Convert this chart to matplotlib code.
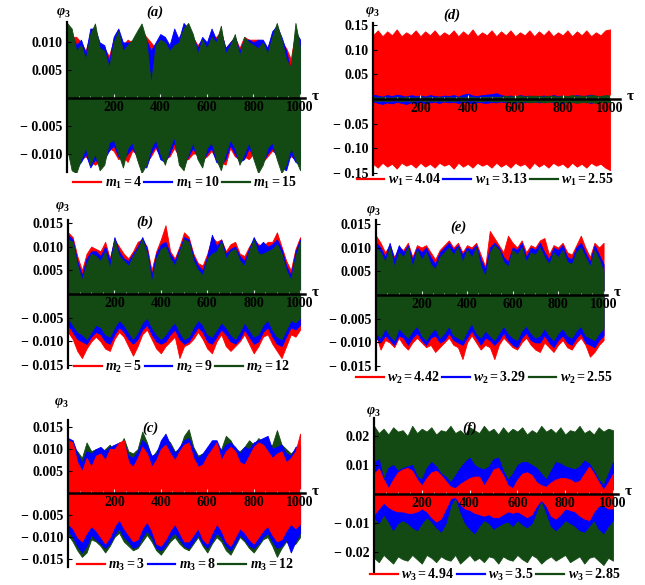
import numpy as np
import matplotlib
matplotlib.use('Agg')
import matplotlib.pyplot as plt
from matplotlib.lines import Line2D

plt.rcParams['font.family'] = ['Liberation Serif', 'DejaVu Serif']
plt.rcParams['font.weight'] = 'bold'
plt.rcParams['mathtext.fontset'] = 'custom'
plt.rcParams['mathtext.rm'] = 'Liberation Serif:bold'
plt.rcParams['mathtext.it'] = 'Liberation Serif:italic:bold'
plt.rcParams['mathtext.bf'] = 'Liberation Serif:bold'

RED, BLUE, GREEN = '#ff0000', '#0000ff', '#134a13'

############ data: envelope of phi_3, tau = 0,20,...,1000 ############
tau = list(range(0, 1001, 20))

# (a) units 1e-3
a_red_up = [12.5, 11.0, 11.0, 10.0, 8.5, 11.5, 12.0, 9.5, 9.0, 7.5, 10.5, 11.5, 9.5, 10.5, 10.0, 11.0, 12.0, 11.0, 10.0, 9.0, 10.5, 10.5, 9.0, 10.0, 11.0, 12.0, 12.0, 11.0, 9.5, 10.5, 9.5, 11.0, 11.0, 12.0, 9.0, 10.0, 11.0, 9.0, 11.0, 10.5, 10.5, 10.5, 10.0, 9.0, 11.5, 12.0, 10.0, 9.0, 7.0, 12.0, 10.0]
a_blue_up = [12.0, 11.5, 9.5, 10.5, 8.0, 12.5, 12.5, 10.0, 9.5, 6.5, 11.0, 12.5, 10.0, 10.0, 10.0, 11.0, 12.5, 10.5, 8.5, 10.0, 11.5, 11.0, 9.5, 12.5, 10.5, 13.5, 12.5, 11.0, 9.0, 11.0, 10.0, 12.5, 10.5, 12.0, 9.0, 10.0, 11.0, 8.5, 10.5, 10.5, 10.0, 10.5, 10.5, 9.0, 12.0, 13.0, 11.0, 8.5, 5.0, 12.0, 10.5]
a_green_up = [13.5, 12.5, 8.5, 9.5, 7.0, 11.5, 13.4, 9.0, 8.5, 5.5, 10.0, 12.0, 8.5, 9.5, 10.5, 12.0, 13.4, 10.5, 2.5, 9.5, 10.5, 10.0, 8.5, 9.5, 10.0, 12.5, 13.5, 11.5, 8.0, 10.5, 9.0, 11.0, 10.0, 13.0, 8.0, 9.5, 11.5, 7.5, 11.0, 10.0, 9.5, 9.0, 10.0, 8.0, 11.0, 13.5, 10.5, 7.0, 5.5, 13.5, 9.0]
a_red_lo = [9.5, 10.5, 12.0, 11.0, 10.5, 11.5, 12.0, 11.5, 10.5, 9.0, 9.5, 11.0, 10.5, 11.5, 9.5, 10.0, 11.0, 11.5, 10.5, 9.0, 10.5, 11.0, 10.5, 9.0, 10.5, 11.0, 11.0, 10.0, 10.0, 11.0, 10.5, 9.5, 11.0, 11.5, 12.0, 9.0, 10.5, 11.0, 10.5, 11.0, 10.0, 11.0, 11.5, 10.5, 9.5, 10.0, 12.0, 11.0, 10.5, 11.0, 11.0]
a_blue_lo = [8.0, 11.5, 12.5, 11.5, 10.0, 12.5, 11.0, 12.0, 11.0, 9.5, 8.5, 10.5, 11.0, 10.0, 9.0, 10.5, 12.0, 12.5, 10.0, 8.5, 11.0, 11.5, 10.0, 8.0, 11.0, 12.0, 10.5, 9.0, 10.5, 11.5, 10.0, 9.0, 11.5, 12.0, 11.0, 8.5, 10.0, 11.5, 11.0, 9.0, 10.5, 12.5, 11.5, 10.0, 9.0, 10.5, 12.5, 13.0, 10.0, 11.5, 12.0]
a_green_lo = [9.0, 13.0, 13.5, 11.0, 9.0, 12.0, 10.0, 13.0, 12.0, 8.0, 7.5, 10.0, 12.5, 9.0, 8.0, 11.0, 13.5, 12.0, 9.0, 7.5, 10.0, 12.0, 9.0, 7.0, 12.0, 13.0, 10.0, 8.0, 11.0, 12.5, 9.0, 8.0, 11.0, 13.0, 10.0, 7.5, 9.0, 12.0, 10.0, 8.0, 11.0, 13.5, 12.0, 9.0, 8.0, 11.0, 13.5, 12.0, 9.0, 11.0, 13.0]

# (b) units 1e-3
b_red_up = [13.0, 12.0, 8.0, 5.0, 8.5, 10.0, 9.5, 9.0, 11.0, 7.5, 11.5, 10.0, 8.5, 7.5, 9.0, 11.0, 11.5, 10.0, 5.0, 9.0, 11.5, 14.5, 9.0, 7.5, 10.0, 13.0, 12.0, 8.5, 6.5, 6.0, 8.5, 12.0, 11.0, 11.5, 9.0, 10.5, 11.0, 8.5, 8.0, 10.0, 11.5, 10.5, 10.0, 11.0, 11.0, 13.0, 10.0, 7.0, 5.0, 9.5, 12.0]
b_blue_up = [12.5, 11.5, 7.0, 4.0, 7.5, 9.0, 9.0, 8.0, 10.0, 7.0, 12.0, 9.0, 7.5, 7.0, 8.5, 10.0, 12.0, 9.5, 4.0, 8.5, 10.5, 11.0, 8.5, 7.0, 9.5, 12.0, 11.5, 8.0, 6.0, 5.0, 8.0, 12.5, 10.0, 11.5, 8.5, 9.5, 10.0, 8.0, 7.0, 9.5, 12.0, 10.0, 11.0, 10.0, 10.5, 11.5, 9.5, 6.0, 4.0, 9.0, 11.5]
b_green_up = [11.5, 11.0, 6.0, 3.0, 6.5, 8.5, 8.0, 7.0, 9.0, 5.5, 11.5, 8.0, 7.0, 6.0, 8.0, 9.5, 11.5, 8.5, 2.5, 7.5, 9.5, 10.0, 7.5, 6.0, 9.0, 11.5, 11.0, 7.0, 5.0, 4.0, 7.5, 8.5, 9.0, 11.0, 7.5, 9.0, 9.5, 7.0, 6.0, 9.0, 11.5, 8.5, 8.5, 9.0, 9.5, 10.5, 8.5, 5.0, 3.0, 8.0, 11.0]
b_red_lo = [8.0, 9.5, 12.0, 13.5, 11.5, 10.0, 9.0, 10.0, 11.5, 12.0, 9.5, 8.0, 9.0, 11.0, 13.0, 11.0, 8.5, 7.5, 9.5, 11.5, 12.5, 11.0, 10.0, 9.0, 13.5, 11.0, 10.5, 9.5, 8.0, 9.5, 11.5, 12.5, 10.0, 8.5, 11.0, 12.0, 11.0, 10.0, 8.5, 10.5, 12.5, 11.0, 9.0, 8.5, 10.5, 12.0, 13.5, 11.0, 8.5, 9.0, 7.5]
b_blue_lo = [6.5, 8.0, 9.5, 10.0, 10.5, 9.0, 8.0, 8.5, 10.0, 10.5, 8.5, 7.0, 8.0, 9.5, 10.5, 9.5, 7.5, 6.5, 8.5, 10.0, 10.5, 10.0, 8.5, 7.5, 9.5, 10.5, 10.0, 8.5, 7.0, 8.0, 10.0, 10.5, 9.0, 7.5, 8.5, 10.0, 10.5, 9.5, 7.5, 9.0, 10.5, 10.0, 8.0, 7.0, 9.0, 10.5, 11.0, 9.0, 7.0, 7.5, 6.5]
b_green_lo = [5.0, 6.5, 8.0, 8.5, 9.5, 8.0, 6.5, 7.0, 8.5, 9.0, 7.0, 5.5, 6.5, 8.0, 9.5, 8.0, 6.0, 5.0, 7.0, 8.5, 9.5, 8.5, 7.0, 6.0, 8.0, 9.5, 9.0, 7.0, 5.5, 6.5, 8.5, 9.0, 7.5, 6.0, 7.0, 8.5, 9.5, 8.0, 6.0, 7.5, 9.0, 8.5, 6.5, 5.5, 7.5, 9.0, 9.5, 7.5, 5.5, 6.0, 5.0]

# (c) units 1e-3
c_red_up = [12.0, 11.5, 7.0, 5.0, 8.0, 6.0, 8.5, 9.0, 7.5, 10.0, 10.0, 11.5, 12.0, 7.0, 6.0, 8.0, 10.5, 9.0, 6.0, 7.5, 10.0, 11.0, 9.0, 7.5, 9.5, 11.0, 11.5, 8.0, 6.0, 6.5, 8.5, 10.0, 11.5, 7.5, 9.5, 10.5, 9.5, 7.0, 6.5, 8.5, 10.5, 11.5, 11.0, 9.5, 8.0, 9.0, 9.5, 7.0, 8.0, 9.5, 13.5]
c_blue_up = [12.5, 12.0, 9.0, 7.0, 9.5, 9.0, 10.0, 10.5, 9.5, 10.5, 11.0, 11.5, 11.5, 8.5, 8.0, 9.5, 12.0, 11.0, 8.5, 9.0, 12.0, 13.5, 11.0, 9.0, 10.5, 12.0, 12.5, 10.0, 8.0, 9.0, 10.5, 12.0, 12.0, 9.5, 11.0, 11.5, 10.5, 9.0, 10.5, 10.0, 11.5, 12.0, 12.5, 13.0, 10.0, 10.5, 11.0, 9.0, 8.5, 10.5, 11.0]
c_green_up = [11.0, 10.5, 9.5, 8.0, 11.5, 9.5, 10.0, 9.0, 10.0, 11.0, 9.0, 10.5, 12.5, 9.5, 9.0, 10.0, 14.0, 11.5, 8.0, 9.5, 11.0, 12.5, 11.5, 9.5, 10.0, 13.0, 14.5, 10.5, 8.5, 9.0, 10.0, 11.5, 10.5, 10.0, 13.0, 12.0, 10.0, 9.5, 10.5, 12.0, 11.0, 12.5, 11.5, 10.5, 11.0, 14.3, 11.0, 10.0, 9.0, 10.0, 10.5]
c_red_lo = [7.0, 8.0, 10.0, 11.0, 9.0, 7.5, 8.5, 10.0, 11.5, 10.0, 7.5, 6.0, 8.0, 9.5, 11.0, 10.5, 8.0, 6.5, 8.5, 11.5, 12.0, 10.5, 8.5, 7.0, 9.0, 11.0, 11.0, 9.5, 8.0, 10.5, 11.5, 9.0, 7.0, 8.5, 11.0, 12.0, 10.0, 8.0, 9.0, 10.5, 11.5, 10.0, 8.5, 7.5, 9.5, 11.0, 10.5, 8.5, 7.0, 8.0, 7.0]
c_blue_lo = [8.5, 10.0, 12.0, 13.5, 12.0, 9.5, 10.5, 11.5, 12.5, 11.5, 9.5, 8.0, 10.0, 11.0, 12.5, 12.0, 10.0, 8.5, 10.0, 12.5, 13.0, 12.0, 10.0, 9.0, 10.5, 12.0, 12.5, 11.0, 9.5, 11.5, 12.5, 11.0, 9.0, 10.0, 12.0, 13.0, 11.5, 9.5, 10.5, 12.0, 12.5, 11.5, 10.0, 9.0, 11.0, 12.5, 12.0, 10.5, 13.5, 11.0, 9.0]
c_green_lo = [9.5, 11.0, 13.0, 14.5, 13.5, 10.5, 11.0, 12.0, 13.5, 12.0, 10.0, 9.0, 11.0, 12.0, 13.0, 12.5, 11.0, 9.5, 11.0, 13.0, 14.0, 12.5, 11.0, 10.0, 11.5, 12.5, 13.0, 11.5, 10.0, 12.0, 13.5, 11.5, 10.0, 11.0, 13.0, 14.0, 12.0, 10.0, 11.0, 12.5, 13.5, 12.0, 10.5, 10.0, 12.0, 14.5, 12.5, 11.0, 12.0, 11.5, 10.0]

# (d) units 1e-2
d_red_up = [13.0, 14.0, 12.8, 13.8, 13.0, 14.2, 12.8, 13.6, 13.0, 14.0, 12.8, 13.8, 13.0, 14.0, 12.8, 13.6, 13.0, 14.0, 12.8, 13.8, 13.0, 14.2, 12.8, 13.6, 13.0, 14.0, 12.8, 13.8, 13.0, 14.0, 12.8, 13.6, 13.0, 14.0, 12.8, 13.8, 13.0, 14.0, 12.8, 13.6, 13.0, 14.0, 12.8, 13.8, 13.0, 14.0, 12.8, 13.6, 13.0, 14.0, 14.2]
d_blue_up = [0.9, 0.7, 0.5, 0.8, 0.6, 0.9, 0.7, 0.5, 0.8, 0.6, 0.7, 0.5, 0.8, 0.6, 0.5, 0.7, 0.6, 0.8, 0.5, 0.9, 1.1, 0.7, 0.6, 0.8, 0.9, 1.0, 1.2, 0.8, 0.6, 0.7, 0.5, 0.8, 0.6, 0.7, 0.5, 0.6, 0.7, 0.5, 0.8, 0.6, 0.7, 0.5, 0.6, 0.8, 0.6, 0.7, 0.9, 0.6, 0.5, 0.7, 0.6]
d_green_up = [0.4, 0.3, 0.4, 0.3, 0.3, 0.4, 0.3, 0.4, 0.3, 0.3, 0.4, 0.3, 0.4, 0.3, 0.4, 0.3, 0.4, 0.3, 0.4, 0.3, 0.4, 0.4, 0.3, 0.4, 0.4, 0.5, 0.4, 0.5, 0.6, 0.5, 0.6, 0.7, 0.5, 0.6, 0.7, 0.6, 0.5, 0.7, 0.6, 0.5, 0.7, 0.6, 0.8, 0.6, 0.7, 0.6, 0.8, 0.7, 0.6, 0.8, 0.7]
d_red_lo = [13.2, 14.0, 13.0, 13.8, 13.2, 14.2, 13.0, 13.6, 13.2, 14.0, 13.0, 13.8, 13.2, 14.0, 13.0, 13.6, 13.2, 14.2, 13.0, 13.8, 13.2, 14.0, 13.0, 13.6, 13.2, 14.0, 13.0, 13.8, 13.2, 14.0, 13.0, 13.6, 13.2, 14.2, 13.0, 13.8, 13.2, 14.0, 13.0, 13.6, 13.2, 14.0, 13.0, 13.8, 13.2, 14.0, 13.0, 13.6, 13.2, 14.0, 14.5]
d_blue_lo = [0.5, 0.8, 1.0, 0.7, 0.9, 0.6, 0.8, 1.0, 0.7, 0.8, 0.6, 0.9, 0.7, 0.6, 0.8, 0.5, 0.7, 0.6, 0.8, 0.6, 0.7, 0.9, 0.6, 0.7, 0.8, 0.6, 0.7, 0.5, 0.7, 0.6, 0.8, 0.5, 0.7, 0.6, 0.5, 0.7, 0.6, 0.5, 0.7, 0.6, 0.8, 0.5, 0.6, 0.7, 0.5, 0.6, 0.8, 0.5, 0.6, 0.5, 0.6]
d_green_lo = [0.3, 0.4, 0.3, 0.4, 0.3, 0.3, 0.4, 0.3, 0.4, 0.3, 0.3, 0.4, 0.3, 0.4, 0.3, 0.4, 0.3, 0.4, 0.3, 0.4, 0.3, 0.3, 0.4, 0.4, 0.3, 0.4, 0.5, 0.4, 0.5, 0.6, 0.5, 0.6, 0.5, 0.7, 0.6, 0.5, 0.7, 0.6, 0.5, 0.7, 0.6, 0.7, 0.6, 0.8, 0.6, 0.7, 0.6, 0.8, 0.6, 0.7, 0.6]

# (e) units 1e-3
e_red_up = [12.5, 11.0, 9.0, 10.5, 8.0, 10.0, 9.5, 11.0, 8.0, 10.5, 10.0, 10.5, 9.0, 7.5, 9.5, 10.5, 11.5, 10.0, 11.0, 9.0, 10.5, 10.0, 11.0, 8.5, 6.0, 13.5, 12.0, 10.5, 9.0, 12.5, 11.0, 10.0, 11.5, 9.0, 10.5, 10.0, 11.5, 12.0, 8.5, 10.5, 10.0, 11.0, 9.0, 8.5, 10.5, 12.5, 10.0, 8.0, 11.0, 10.0, 11.0]
e_blue_up = [11.0, 10.0, 8.0, 11.0, 7.5, 10.5, 9.0, 10.5, 7.5, 10.0, 9.0, 10.0, 8.0, 6.5, 9.0, 10.0, 11.0, 9.5, 10.5, 8.5, 10.0, 9.5, 10.5, 7.5, 5.5, 10.0, 11.0, 10.0, 8.0, 7.0, 10.0, 9.5, 11.0, 8.0, 10.0, 9.5, 11.0, 9.0, 7.5, 10.0, 9.5, 10.5, 8.0, 7.5, 10.0, 11.0, 9.0, 7.0, 10.5, 8.5, 6.5]
e_green_up = [10.0, 9.0, 7.0, 10.0, 6.0, 9.0, 8.0, 10.0, 6.0, 9.5, 7.5, 9.0, 6.5, 5.5, 8.0, 9.0, 10.0, 8.5, 10.0, 7.0, 9.5, 8.0, 10.0, 6.0, 4.0, 9.0, 10.5, 9.5, 7.0, 6.0, 9.5, 8.5, 10.0, 7.0, 9.0, 8.5, 10.0, 8.0, 6.5, 9.0, 8.0, 9.5, 7.0, 6.5, 9.0, 10.0, 8.0, 6.0, 9.5, 7.5, 5.0]
e_red_lo = [8.5, 11.5, 9.5, 10.0, 11.0, 9.0, 10.5, 11.5, 10.0, 9.0, 10.0, 11.0, 10.5, 12.0, 11.0, 10.0, 9.0, 10.5, 11.0, 13.5, 10.0, 8.5, 10.0, 11.5, 10.5, 11.0, 13.5, 10.5, 9.0, 10.0, 11.0, 11.5, 10.0, 9.0, 10.5, 11.5, 12.0, 10.0, 11.0, 12.0, 10.5, 9.5, 11.0, 11.5, 10.0, 9.0, 10.5, 13.0, 12.0, 10.5, 9.5]
e_blue_lo = [9.0, 10.0, 8.5, 9.5, 10.5, 8.5, 9.0, 10.5, 9.0, 8.0, 9.5, 10.5, 9.0, 8.5, 10.0, 9.5, 8.0, 9.5, 10.0, 10.5, 9.0, 7.5, 9.0, 10.5, 9.0, 9.5, 10.5, 9.5, 8.0, 9.5, 10.5, 11.0, 9.0, 8.0, 9.5, 10.0, 10.0, 8.5, 10.0, 11.0, 9.5, 8.5, 10.0, 10.5, 9.0, 8.0, 10.0, 10.5, 11.0, 9.5, 8.5]
e_green_lo = [8.0, 9.0, 7.0, 8.5, 9.5, 7.0, 8.0, 9.0, 7.5, 6.5, 8.5, 9.5, 8.0, 7.0, 9.0, 8.0, 6.5, 8.5, 9.0, 9.5, 7.5, 6.0, 8.0, 9.0, 7.5, 8.5, 9.5, 8.0, 6.5, 8.0, 9.0, 9.5, 7.5, 6.5, 8.0, 9.0, 8.5, 7.0, 8.5, 9.5, 8.0, 7.0, 8.5, 9.0, 7.5, 6.5, 8.5, 9.0, 9.5, 8.0, 7.0]

# (f) units 1e-3
f_red_up = [7.0, 8.8, 5.0, 2.0, 5.0, 7.5, 8.5, 9.0, 8.0, 5.0, 3.0, 5.5, 7.5, 8.0, 6.5, 4.5, 2.5, 2.0, 3.5, 4.5, 5.5, 6.0, 6.0, 3.0, 5.5, 8.5, 9.0, 6.5, 3.0, 2.0, 5.0, 7.0, 7.5, 6.5, 4.0, 3.0, 2.5, 4.0, 5.0, 5.5, 5.5, 5.0, 4.0, 4.5, 7.0, 9.5, 7.0, 4.0, 1.5, 4.0, 7.0]
f_blue_up = [11.0, 12.0, 5.0, 9.0, 10.0, 8.0, 9.0, 9.5, 10.0, 6.0, 5.0, 9.0, 11.0, 9.5, 7.0, 6.0, 4.0, 6.5, 9.0, 11.0, 12.5, 10.0, 9.0, 8.5, 9.5, 12.0, 12.5, 8.0, 5.0, 7.0, 10.0, 11.0, 11.0, 10.0, 9.0, 7.0, 5.0, 8.0, 11.0, 10.5, 9.5, 9.0, 8.5, 9.5, 11.5, 10.5, 8.0, 5.0, 3.0, 7.0, 11.0]
f_green_up = [23.5, 21.0, 22.5, 20.5, 23.0, 21.5, 22.0, 20.0, 23.5, 21.0, 22.5, 21.5, 23.0, 20.5, 22.0, 21.5, 23.5, 21.0, 22.0, 20.5, 23.0, 22.0, 21.0, 23.5, 21.5, 22.5, 20.5, 23.0, 21.0, 22.5, 21.5, 23.0, 20.5, 22.0, 21.0, 23.5, 21.5, 22.5, 21.0, 23.0, 20.5, 22.0, 21.5, 23.5, 21.0, 22.0, 20.5, 23.0, 21.5, 22.5, 22.0]
f_red_lo = [7.0, 5.0, 3.0, 4.5, 5.5, 6.0, 6.0, 6.5, 6.5, 6.0, 5.0, 6.0, 8.0, 9.5, 8.5, 5.0, 1.5, 1.0, 3.5, 5.0, 5.5, 6.5, 7.0, 7.5, 7.0, 8.0, 8.0, 7.0, 6.0, 6.5, 6.0, 7.0, 8.0, 7.0, 4.0, 2.0, 4.0, 7.5, 8.5, 7.0, 5.0, 5.5, 6.0, 7.5, 8.5, 9.0, 6.0, 4.0, 4.0, 5.0, 5.0]
f_blue_lo = [8.0, 10.0, 7.0, 9.5, 12.5, 10.0, 9.0, 10.0, 11.5, 12.5, 10.0, 8.0, 9.5, 11.5, 13.0, 10.0, 4.0, 1.0, 6.0, 10.0, 12.0, 13.5, 11.0, 9.0, 10.0, 12.0, 11.0, 10.0, 9.5, 11.0, 9.0, 10.5, 11.5, 10.0, 6.0, 2.0, 6.5, 11.0, 12.5, 11.0, 9.0, 10.0, 11.0, 12.5, 13.0, 11.0, 9.0, 12.0, 13.5, 11.0, 9.0]
f_green_lo = [22.0, 23.5, 21.0, 22.5, 24.0, 21.5, 22.5, 23.0, 21.0, 22.5, 24.0, 21.0, 22.0, 23.5, 21.5, 22.5, 23.0, 21.0, 24.0, 22.5, 21.0, 23.0, 22.0, 23.5, 21.5, 22.0, 24.0, 21.5, 22.5, 23.0, 21.0, 22.5, 23.5, 21.0, 22.0, 24.0, 22.5, 21.5, 23.0, 22.0, 21.0, 23.5, 22.5, 21.5, 24.0, 22.0, 21.5, 23.0, 24.5, 22.0, 23.0]

a_labels = ['$m_1=4$', '$m_1=10$', '$m_1=15$']
b_labels = ['$m_2=5$', '$m_2=9$', '$m_2=12$']
c_labels = ['$m_3=3$', '$m_3=8$', '$m_3=12$']
d_labels = ['$w_1=4.04$', '$w_1=3.13$', '$w_1=2.55$']
e_labels = ['$w_2=4.42$', '$w_2=3.29$', '$w_2=2.55$']
f_labels = ['$w_3=4.94$', '$w_3=3.5$', '$w_3=2.85$']

a_yticks = [-0.010, -0.005, 0.005, 0.010]
b_yticks = [-0.015, -0.010, -0.005, 0.005, 0.010, 0.015]
d_yticks = [-0.15, -0.10, -0.05, 0.05, 0.10, 0.15]
f_yticks = [-0.02, -0.01, 0.01, 0.02]
xticks = [200, 400, 600, 800, 1000]

W, H = 645, 585
fig = plt.figure(figsize=(W / 100, H / 100), dpi=100)

def fx(px):
    return px / W

def fy(py):
    return 1 - py / H

# panel geometry in pixels: left, right, top, bottom; then limits and text spots
panels = [
    dict(name='(a)', box=(67, 305, 22, 172), xmax=1021, ylim=(-0.01331, 0.01367), scale=1e-3,
         up=(a_red_up, a_blue_up, a_green_up), lo=(a_red_lo, a_blue_lo, a_green_lo), order=(0, 1, 2),
         yt=a_yticks, fmt='%.3f', labels=a_labels, title=(155, 12), phi=(63, 13), leg=(185, 183)),
    dict(name='(d)', box=(373, 620, 23, 175), xmax=1042, ylim=(-0.155, 0.155), scale=1e-2,
         up=(d_red_up, d_blue_up, d_green_up), lo=(d_red_lo, d_blue_lo, d_green_lo), order=(0, 1, 2),
         yt=d_yticks, fmt='%.2f', labels=d_labels, title=(452, 15), phi=(372, 12), leg=(485, 180)),
    dict(name='(b)', box=(68, 305, 220, 368), xmax=1021, ylim=(-0.0156, 0.0156), scale=1e-3,
         up=(b_red_up, b_blue_up, b_green_up), lo=(b_red_lo, b_blue_lo, b_green_lo), order=(0, 1, 2),
         yt=b_yticks, fmt='%.3f', labels=b_labels, title=(145, 222), phi=(62, 207), leg=(182, 367)),
    dict(name='(e)', box=(376, 607, 220, 370), xmax=1015, ylim=(-0.0158, 0.0158), scale=1e-3,
         up=(e_red_up, e_blue_up, e_green_up), lo=(e_red_lo, e_blue_lo, e_green_lo), order=(0, 1, 2),
         yt=b_yticks, fmt='%.3f', labels=e_labels, title=(458, 227), phi=(373, 211), leg=(484, 378)),
    dict(name='(c)', box=(68, 305, 420, 567), xmax=1021, ylim=(-0.0168, 0.0166), scale=1e-3,
         up=(c_red_up, c_blue_up, c_green_up), lo=(c_red_lo, c_blue_lo, c_green_lo), order=(2, 1, 0),
         yt=b_yticks, fmt='%.3f', labels=c_labels, title=(150, 428), phi=(61, 403), leg=(185, 565)),
    dict(name='(f)', box=(374, 618, 418, 572), xmax=1021, ylim=(-0.0269, 0.0262), scale=1e-3,
         up=(f_red_up, f_blue_up, f_green_up), lo=(f_red_lo, f_blue_lo, f_green_lo), order=(2, 1, 0),
         yt=f_yticks, fmt='%.2f', labels=f_labels, title=(470, 428), phi=(373, 412), leg=(495, 575)),
]
colors = [RED, BLUE, GREEN]
t = np.array(tau)

for p in panels:
    l, r, top, bot = p['box']
    ax = fig.add_axes([fx(l), fy(bot), fx(r - l), (bot - top) / H])
    ax.patch.set_alpha(0)
    for k in p['order']:
        up = np.array(p['up'][k]) * p['scale']
        lo = -np.array(p['lo'][k]) * p['scale']
        ax.fill_between(t, lo, up, color=colors[k], lw=0.6, zorder=1)
    ax.set_xlim(0, p['xmax'])
    ax.set_ylim(*p['ylim'])
    for s in ['top', 'right']:
        ax.spines[s].set_visible(False)
    ax.spines['bottom'].set_position(('data', 0))
    ax.spines['bottom'].set_linewidth(1.8)
    ax.spines['left'].set_linewidth(1.6)
    ax.spines['bottom'].set_zorder(5)
    ax.spines['left'].set_zorder(5)
    ax.set_axisbelow(False)

    ax.set_xticks(xticks)
    ax.set_xticklabels([str(v) for v in xticks])
    ax.set_xticks(range(50, 1001, 50), minor=True)
    ax.tick_params(axis='x', which='major', direction='in', length=3, width=0.8,
                   pad=2, labelsize=10, color='#dddddd')
    ax.tick_params(axis='x', which='minor', direction='in', length=1.5, width=0.6, color='#dddddd')
    ax.set_yticks(p['yt'])
    ax.set_yticklabels([('\u2212 ' + p['fmt'] % -v) if v < 0 else p['fmt'] % v for v in p['yt']])
    ax.tick_params(axis='y', which='major', direction='in', length=3, width=0.8, pad=3, labelsize=10)
    for lab in ax.get_xticklabels() + ax.get_yticklabels():
        lab.set_fontweight('bold')
        lab.set_zorder(6)

    fig.text(fx(p['title'][0]), fy(p['title'][1]), p['name'], ha='center', va='center',
             fontsize=10.5, fontweight='bold', fontstyle='italic')
    fig.text(fx(p['phi'][0]), fy(p['phi'][1]), r'$\varphi_3$', ha='center', va='center', fontsize=10)
    zero_y = top + (bot - top) * p['ylim'][1] / (p['ylim'][1] - p['ylim'][0])
    fig.text(fx(r + 10), fy(zero_y - 2), '\u03c4', ha='center', va='center', fontsize=11)

    handles = [Line2D([], [], color=c, lw=1.6) for c in colors]
    fig.legend(handles, p['labels'], loc='center', bbox_to_anchor=(fx(p['leg'][0]), fy(p['leg'][1])),
               ncol=3, frameon=False, fontsize=10, handlelength=2.0, handletextpad=0.25,
               columnspacing=0.2, borderpad=0, borderaxespad=0)

fig.savefig('out.png', dpi=100)
